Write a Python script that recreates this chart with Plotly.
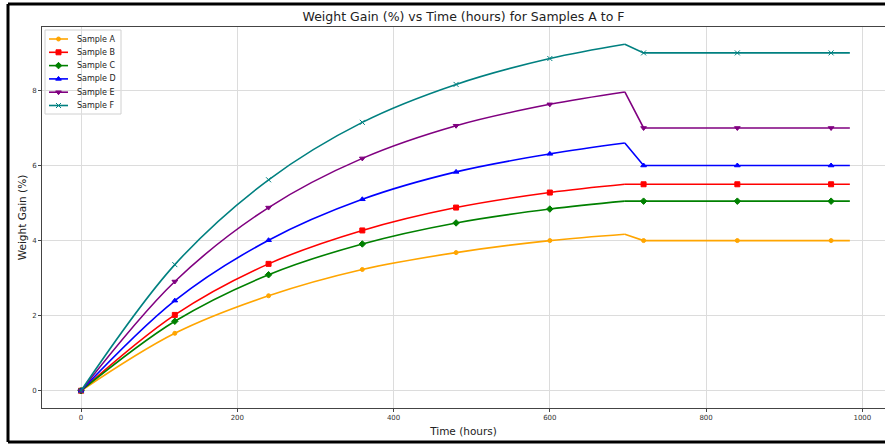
import plotly.graph_objects as go

# Sampling times (hours)
rise_times = [0, 120, 240, 360, 480, 600, 696]
flat_times = [696, 720, 840, 960, 984]
marker_times = [0, 120, 240, 360, 480, 600, 720, 840, 960]

samples = ["Sample A", "Sample B", "Sample C", "Sample D", "Sample E", "Sample F"]

# Weight gain (%) during the uptake phase, at rise_times
rise_a = [0.0, 1.53, 2.53, 3.23, 3.68, 4.00, 4.17]
rise_b = [0.0, 2.02, 3.38, 4.27, 4.88, 5.28, 5.50]
rise_c = [0.0, 1.85, 3.09, 3.91, 4.47, 4.84, 5.05]
rise_d = [0.0, 2.40, 4.01, 5.10, 5.83, 6.31, 6.60]
rise_e = [0.0, 2.91, 4.88, 6.19, 7.06, 7.63, 7.96]
rise_f = [0.0, 3.36, 5.62, 7.15, 8.16, 8.85, 9.23]

# Steady weight gain (%) from 720 h onwards
final_values = [4.0, 5.5, 5.05, 6.0, 7.0, 9.0]

colors = ["#FFA500", "#FF0000", "#008000", "#0000FF", "#800080", "#008080"]
symbols = ["circle", "square", "diamond", "triangle-up", "triangle-down", "x-thin"]
msizes = [4, 5, 5, 5, 5, 5]

rises = [rise_a, rise_b, rise_c, rise_d, rise_e, rise_f]

# plot area in pixels (for the hand-built legend and frame)
PX_L, PX_R, PX_T, PX_B = 42, 885, 27, 408


def px_to_paper_x(px):
    return (px - PX_L) / (PX_R - PX_L)


def px_to_paper_y(py):
    return (PX_B - py) / (PX_B - PX_T)


fig = go.Figure()
for name, rise, final, col, sym, ms in zip(samples, rises, final_values, colors, symbols, msizes):
    # smooth uptake curve
    fig.add_trace(go.Scatter(
        x=rise_times, y=rise, mode="lines", line=dict(color=col, width=1.6, shape="spline"),
        hoverinfo="skip", name=name))
    # drop and plateau
    flat_y = [rise[-1]] + [final] * (len(flat_times) - 1)
    fig.add_trace(go.Scatter(
        x=flat_times, y=flat_y, mode="lines", line=dict(color=col, width=1.6),
        hoverinfo="skip", name=name))
    # measurement markers every 120 h
    marker_y = rise[:6] + [final] * 3
    fig.add_trace(go.Scatter(
        x=marker_times, y=marker_y, mode="markers",
        marker=dict(color=col, symbol=sym, size=ms, line=dict(color=col, width=1)),
        name=name))

# legend, drawn on an overlaid 0..1 axis pair that coincides with the plot area
leg_x0, leg_x1, leg_xm = px_to_paper_x(49), px_to_paper_x(68), px_to_paper_x(58.5)
for i, (name, col, sym, ms) in enumerate(zip(samples, colors, symbols, msizes)):
    yy = px_to_paper_y(39 + 13.3 * i)
    fig.add_trace(go.Scatter(
        x=[leg_x0, leg_x1], y=[yy, yy], xaxis="x2", yaxis="y2", mode="lines",
        line=dict(color=col, width=1.6), hoverinfo="skip", cliponaxis=False))
    fig.add_trace(go.Scatter(
        x=[leg_xm], y=[yy], xaxis="x2", yaxis="y2", mode="markers",
        marker=dict(color=col, symbol=sym, size=ms, line=dict(color=col, width=1)),
        hoverinfo="skip", cliponaxis=False))
    fig.add_annotation(
        x=px_to_paper_x(75), y=yy, xref="paper", yref="paper", text=name,
        showarrow=False, xanchor="left", yanchor="middle",
        font=dict(family="DejaVu Sans", size=8, color="#222222"))

fig.add_shape(type="rect", xref="paper", yref="paper", layer="between",
              x0=px_to_paper_x(45), x1=px_to_paper_x(121),
              y0=px_to_paper_y(114), y1=px_to_paper_y(30),
              fillcolor="rgba(255,255,255,0.85)", line=dict(color="#d0d0d0", width=1))

axis_common = dict(
    showgrid=True, gridcolor="#dcdcdc", gridwidth=1, zeroline=False,
    showline=True, linecolor="#444444", linewidth=1, mirror=True,
    ticks="outside", ticklen=3, tickcolor="#444444",
    tickfont=dict(family="DejaVu Sans", size=7, color="#333333"),
)

fig.update_xaxes(
    range=[-50, 1029], tickvals=[0, 200, 400, 600, 800, 1000],
    title=dict(text="Time (hours)", font=dict(family="DejaVu Sans", size=10.5, color="#222222"), standoff=6),
    **axis_common)
fig.update_yaxes(
    range=[-0.46, 9.69], tickvals=[0, 2, 4, 6, 8],
    title=dict(text="Weight Gain (%)", font=dict(family="DejaVu Sans", size=10.5, color="#222222"), standoff=3),
    **axis_common)

# outer frame
frame = dict(type="line", xref="paper", yref="paper", line=dict(color="black", width=3))
x_left = px_to_paper_x(8)
y_top = px_to_paper_y(4)
y_bot = px_to_paper_y(442)
fig.add_shape(x0=x_left, x1=x_left, y0=y_bot, y1=y_top, **frame)
fig.add_shape(x0=x_left, x1=1.01, y0=y_top, y1=y_top, **frame)
fig.add_shape(x0=x_left, x1=1.01, y0=y_bot, y1=y_bot, **frame)

fig.update_layout(
    width=885, height=445,
    margin=dict(l=PX_L, r=885 - PX_R, t=PX_T, b=445 - PX_B),
    paper_bgcolor="white", plot_bgcolor="white",
    font=dict(family="DejaVu Sans", color="#222222"),
    title=dict(text="Weight Gain (%) vs Time (hours) for Samples A to F",
               x=0.5, xref="paper", xanchor="center",
               y=(445 - 17) / 445, yref="container", yanchor="middle",
               font=dict(family="DejaVu Sans", size=12.5, color="#222222")),
    xaxis2=dict(overlaying="x", anchor="y2", range=[0, 1], visible=False, fixedrange=True),
    yaxis2=dict(overlaying="y", anchor="x2", range=[0, 1], visible=False, fixedrange=True),
    showlegend=False,
)

fig.write_html("out.html")
